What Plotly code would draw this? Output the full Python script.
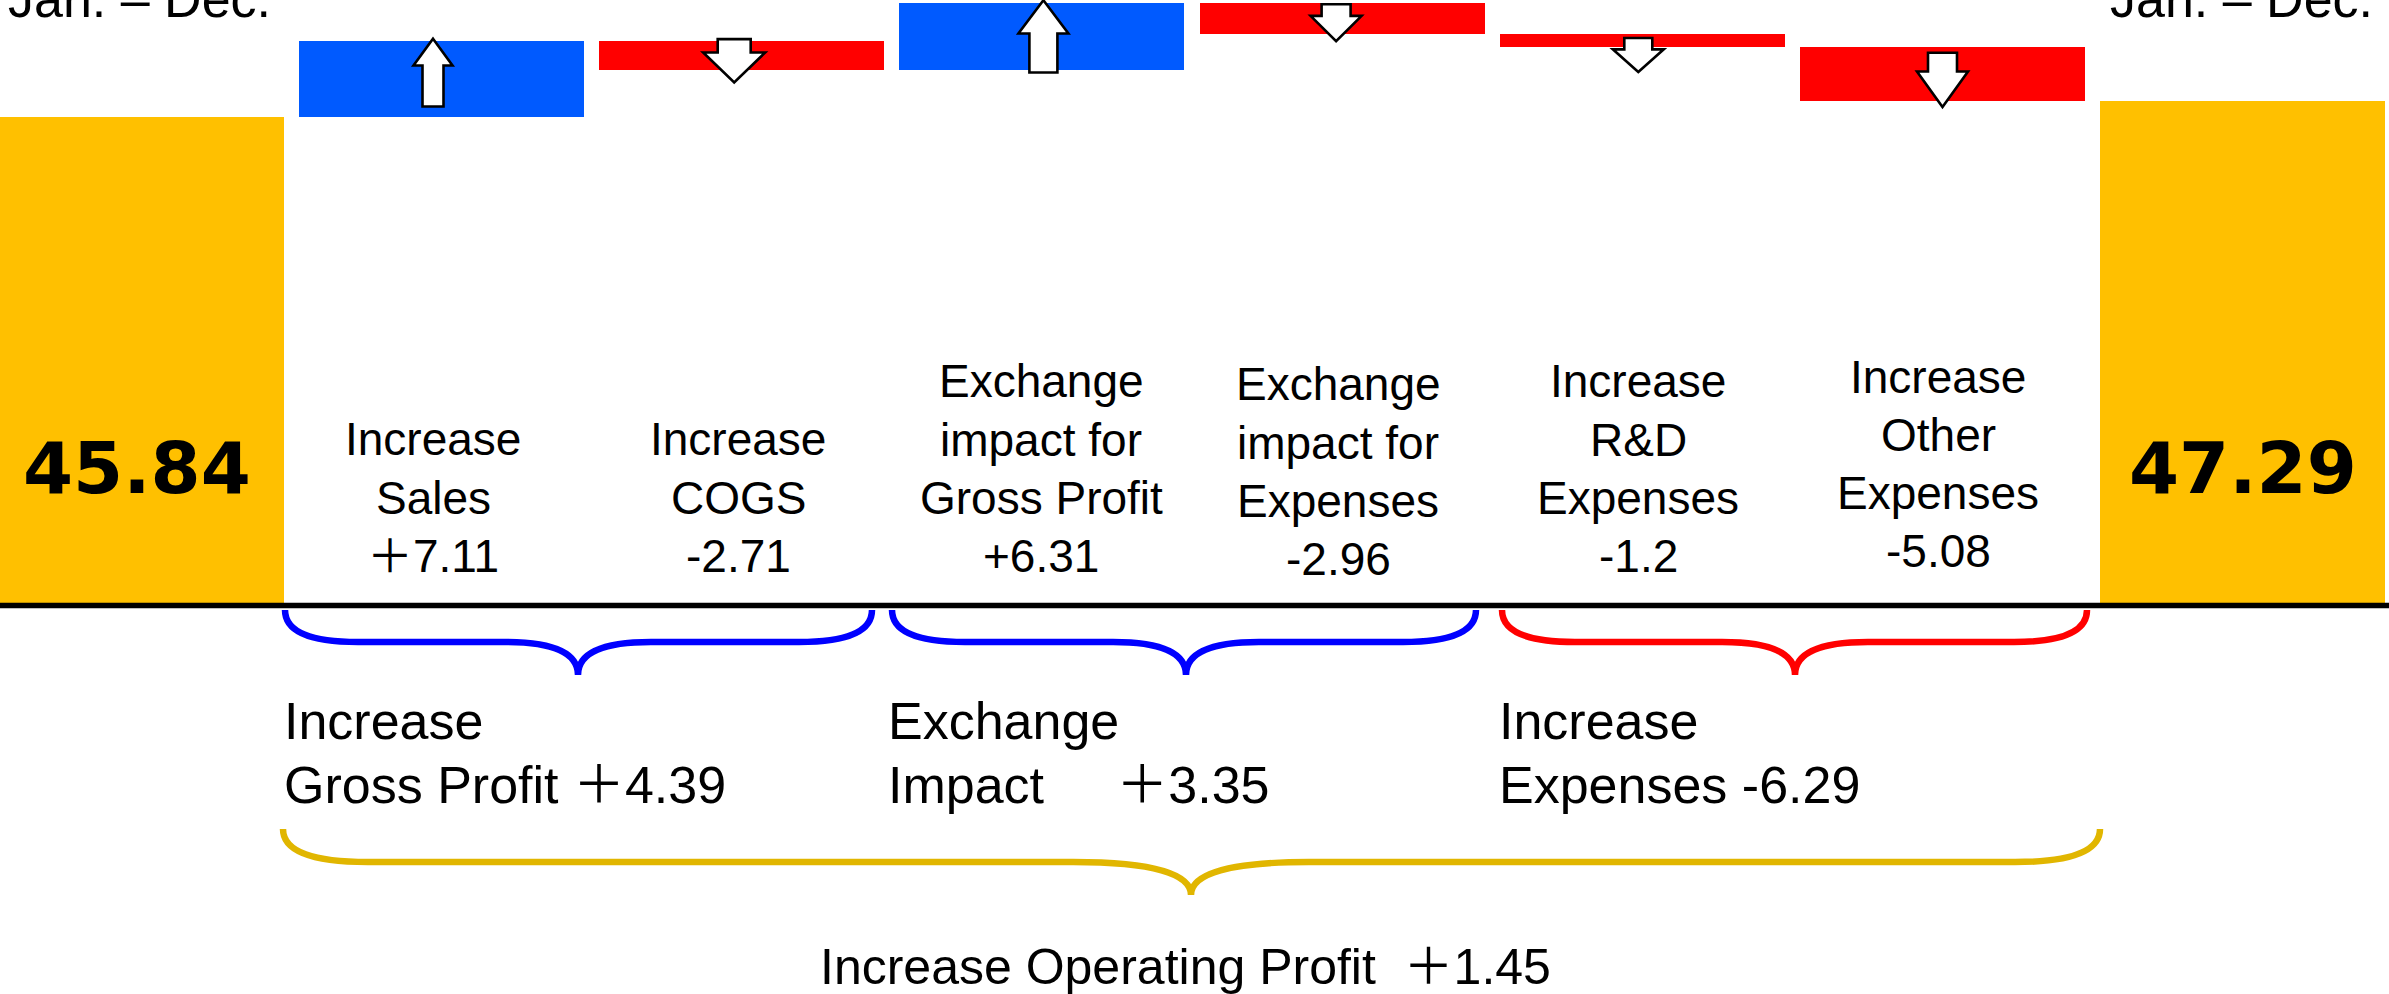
import plotly.graph_objects as go

# ---------------- data ----------------
categories = ["Jan. – Dec. (prev)", "Increase Sales", "Increase COGS",
              "Exchange impact for Gross Profit", "Exchange impact for Expenses",
              "Increase R&D Expenses", "Increase Other Expenses", "Jan. – Dec."]
start_value = 45.84
end_value = 47.29
deltas = [7.11, -2.71, 6.31, -2.96, -1.2, -5.08]
delta_value_text = ["＋7.11", "-2.71", "+6.31", "-2.96", "-1.2", "-5.08"]
delta_name_lines = [["Increase", "Sales"],
                    ["Increase", "COGS"],
                    ["Exchange", "impact for", "Gross Profit"],
                    ["Exchange", "impact for", "Expenses"],
                    ["Increase", "R&D", "Expenses"],
                    ["Increase", "Other", "Expenses"]]
period_label = "Jan. – Dec."
total_text = ["45.84", "47.29"]
group_lines = [["Increase", "Gross Profit\u00a0＋4.39"],
               ["Exchange", "Impact\u00a0\u00a0\u00a0\u00a0\u00a0＋3.35"],
               ["Increase", "Expenses\u00a0-6.29"]]
overall_text = "Increase Operating Profit\u00a0\u00a0＋1.45"

# ---------------- styles / layout geometry ----------------
W, H = 2389, 994
PX_PER_X, X0_PX = 300.2, 141.3
PX_PER_Y, Y0_PX = 10.63, 604.0
BAR_W = 0.949
YELLOW, BLUE, RED = "#FFC000", "#005AFF", "#FF0000"
BRACE_BLUE, BRACE_RED, BRACE_GOLD = "#0000FF", "#FF0000", "#E1B600"
FONT = "Liberation Sans, Arial, Noto Sans CJK JP, sans-serif"
BOLD_FONT = "DejaVu Sans, Verdana, sans-serif"


def xd(px):
    return (px - X0_PX) / PX_PER_X


def yd(py):
    return (Y0_PX - py) / PX_PER_Y


def xp(x):
    return X0_PX + x * PX_PER_X


def yp(y):
    return Y0_PX - y * PX_PER_Y


# waterfall geometry from data
xs = list(range(len(categories)))
bases, heights, colors = [0], [start_value], [YELLOW]
running = start_value
for d in deltas:
    bases.append(running)
    heights.append(d)
    colors.append(BLUE if d > 0 else RED)
    running += d
bases.append(0)
heights.append(end_value)
colors.append(YELLOW)

fig = go.Figure()
fig.add_trace(go.Bar(x=xs, y=heights, base=bases, width=BAR_W,
                     marker=dict(color=colors, line=dict(width=0)),
                     hoverinfo="skip", showlegend=False))

shapes = []
annotations = []

# baseline
shapes.append(dict(type="line", xref="paper", yref="y", x0=0, x1=1,
                   y0=yd(605.5), y1=yd(605.5),
                   line=dict(color="black", width=5.6), layer="above"))

# arrows on delta bars (pixel styling relative to bar top)
arrow_style = [  # dx, dtop, length, head_len, head_w, shaft_w
    (-8.5, -2.4, 67.7, 26.7, 39, 21),
    (-7.5, -2.0, 43.3, 30.0, 62, 33),
    (1.5, -2.6, 72.3, 33.3, 50, 28),
    (-6.0, 1.4, 37.0, 25.4, 51, 29),
    (-4.0, 3.7, 34.0, 22.7, 51, 28),
    (0.0, 5.7, 54.3, 35.6, 51, 29),
]
for i, d in enumerate(deltas):
    k = i + 1
    top_val = max(bases[k], bases[k] + d)
    cx0 = xp(k)
    dx, dtop, L, hl, hw, sw = arrow_style[i]
    cx = cx0 + dx
    t = yp(top_val) + dtop
    if d > 0:
        pts = [(cx, t), (cx + hw / 2, t + hl), (cx + sw / 2, t + hl), (cx + sw / 2, t + L),
               (cx - sw / 2, t + L), (cx - sw / 2, t + hl), (cx - hw / 2, t + hl)]
    else:
        pts = [(cx - sw / 2, t), (cx + sw / 2, t), (cx + sw / 2, t + L - hl), (cx + hw / 2, t + L - hl),
               (cx, t + L), (cx - hw / 2, t + L - hl), (cx - sw / 2, t + L - hl)]
    path = "M " + " L ".join(f"{xd(px):.5f},{yd(py):.5f}" for px, py in pts) + " Z"
    shapes.append(dict(type="path", xref="x", yref="y", path=path,
                       fillcolor="white", line=dict(color="black", width=2.6), layer="above"))


# braces
def brace(xl, xr, xc, yt, yh, ytip, a, b):
    return (f"M {xd(xl)},{yd(yt)} Q {xd(xl)},{yd(yh)} {xd(xl + a)},{yd(yh)} "
            f"L {xd(xc - b)},{yd(yh)} Q {xd(xc)},{yd(yh)} {xd(xc)},{yd(ytip)} "
            f"Q {xd(xc)},{yd(yh)} {xd(xc + b)},{yd(yh)} L {xd(xr - a)},{yd(yh)} "
            f"Q {xd(xr)},{yd(yh)} {xd(xr)},{yd(yt)}")


brace_style = [  # xl, xr, xc, ytop, yh, ytip, a, b, color
    (285, 872, 578, 610, 642, 675, 73, 73, BRACE_BLUE),
    (892, 1476, 1186, 610, 642, 675, 73, 73, BRACE_BLUE),
    (1502, 2087, 1795, 610, 642, 675, 73, 73, BRACE_RED),
    (283, 2100, 1191, 829, 862, 895, 85, 118, BRACE_GOLD),
]
for xl, xr, xc, yt, yh, ytip, a, b, col in brace_style:
    shapes.append(dict(type="path", xref="x", yref="y", path=brace(xl, xr, xc, yt, yh, ytip, a, b),
                       line=dict(color=col, width=6.5), layer="above"))


def text_at(txt, px, baseline, size, xanchor="center", family=FONT):
    cy = baseline - 0.3465 * size
    annotations.append(dict(text=txt, x=xd(px), y=yd(cy),
                            xref="x", yref="y", xanchor=xanchor, yanchor="middle",
                            showarrow=False, font=dict(family=family, size=size, color="black")))


# delta labels
label_style = [  # center px offset from bar, last baseline
    (-8.5, 571.7), (-3.5, 571.7), (-0.5, 572.0), (-4.0, 575.0), (-4.0, 572.0), (-4.5, 567.3)]
LINE_GAP = 58.2
for i, lines in enumerate(delta_name_lines):
    all_lines = lines + [delta_value_text[i]]
    dx, last = label_style[i]
    n = len(all_lines)
    for j, ln in enumerate(all_lines):
        text_at(ln, xp(i + 1) + dx, last - (n - 1 - j) * LINE_GAP, 46)

# totals in yellow bars
for k, txt in zip([0, len(categories) - 1], total_text):
    cy = 467.8
    annotations.append(dict(text=f"<b>{txt}</b>", x=k + (-0.015 if k == 0 else 0.0), y=yd(cy),
                            xref="x", yref="y", xanchor="center", yanchor="middle", showarrow=False,
                            font=dict(family=BOLD_FONT, size=72, color="black")))

# period labels (partially cut at the top)
for k in [0, len(categories) - 1]:
    annotations.append(dict(text=period_label, x=k - 0.005, y=1 - (17 - 0.3465 * 52) / H,
                            xref="x", yref="paper", xanchor="center", yanchor="middle",
                            showarrow=False, font=dict(family=FONT, size=52, color="black")))

# group labels
group_x = [282, 886, 1497]
for gx, lines in zip(group_x, group_lines):
    text_at(lines[0], gx, 739.3, 52, xanchor="left")
    text_at(lines[1], gx, 802.7, 52, xanchor="left")

# overall label
text_at(overall_text, 1185.5, 984, 50)

fig.update_layout(
    width=W, height=H,
    margin=dict(l=0, r=0, t=0, b=0, pad=0),
    paper_bgcolor="white", plot_bgcolor="white",
    xaxis=dict(range=[xd(0), xd(W)], visible=False, fixedrange=True),
    yaxis=dict(range=[yd(H), yd(0)], visible=False, fixedrange=True),
    shapes=shapes, annotations=annotations, showlegend=False,
    bargap=0,
)

fig.write_html("out.html", config={"displayModeBar": False},
               post_script="document.body.style.margin='0';document.body.style.overflow='hidden';")
